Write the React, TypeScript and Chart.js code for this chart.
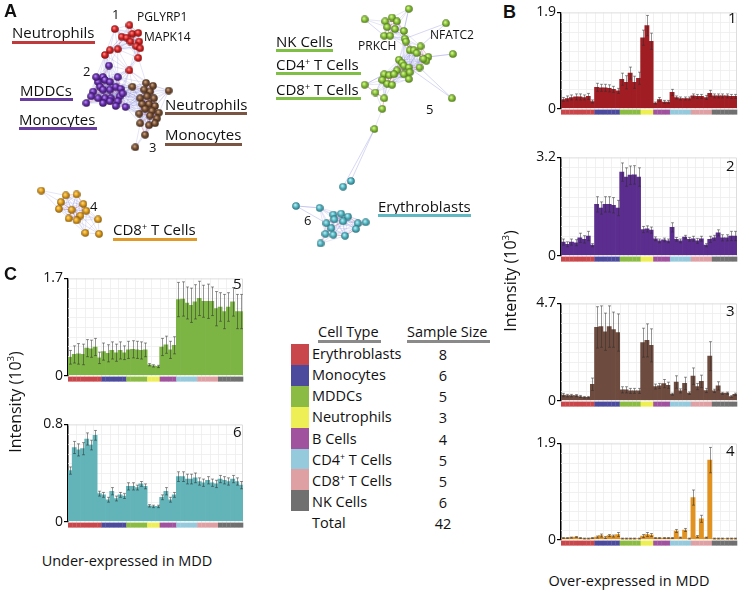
import React, { useEffect, useRef } from "react";
import { Chart, registerables } from "chart.js";
Chart.register(...registerables);

const FONT = "'Open Sans', 'Noto Sans', sans-serif";

// ---------- categories ----------
const cellTypes = ["Erythroblasts", "Monocytes", "MDDCs", "Neutrophils", "B Cells", "CD4+ T Cells", "CD8+ T Cells", "NK Cells"];
const sampleSizes = [8, 6, 5, 3, 4, 5, 5, 6];
const cellColors = ["#c9464b", "#4b4a9d", "#8bbb43", "#eeee55", "#a0529e", "#95c9dc", "#dea0a3", "#707070"];
const sampleGroups: number[] = sampleSizes.flatMap((n, g) => Array(n).fill(g));
const sampleLabels = sampleGroups.map((g, i) => `${cellTypes[g]} #${i + 1}`);

// ---------- module 1..6 mean intensities (10^3) and errors ----------
const m1 = [0.18, 0.2, 0.22, 0.23, 0.23, 0.22, 0.24, 0.14, 0.42, 0.41, 0.41, 0.4, 0.38, 0.35, 0.58, 0.52, 0.7, 0.52, 0.6, 1.4, 1.64, 1.33, 0.11, 0.18, 0.13, 0.13, 0.32, 0.22, 0.2, 0.2, 0.2, 0.25, 0.24, 0.24, 0.22, 0.3, 0.25, 0.25, 0.25, 0.25, 0.24, 0.24];
const e1 = [0.04, 0.05, 0.05, 0.06, 0.06, 0.05, 0.06, 0.03, 0.08, 0.07, 0.07, 0.07, 0.06, 0.05, 0.12, 0.13, 0.12, 0.12, 0.12, 0.15, 0.2, 0.16, 0.02, 0.04, 0.03, 0.03, 0.06, 0.03, 0.03, 0.03, 0.03, 0.04, 0.04, 0.04, 0.04, 0.06, 0.04, 0.04, 0.04, 0.04, 0.04, 0.04];
const m2 = [0.44, 0.37, 0.44, 0.42, 0.58, 0.53, 0.64, 0.34, 1.67, 1.55, 1.67, 1.67, 1.64, 1.55, 2.72, 2.56, 2.62, 2.63, 2.56, 0.85, 0.87, 0.83, 0.55, 0.48, 0.51, 0.48, 0.92, 0.53, 0.48, 0.6, 0.53, 0.55, 0.48, 0.55, 0.34, 0.53, 0.58, 0.74, 0.58, 0.58, 0.64, 0.64];
const e2 = [0.1, 0.08, 0.1, 0.1, 0.15, 0.12, 0.15, 0.05, 0.25, 0.2, 0.25, 0.25, 0.25, 0.25, 0.3, 0.3, 0.3, 0.3, 0.3, 0.1, 0.1, 0.1, 0.06, 0.06, 0.06, 0.06, 0.15, 0.06, 0.06, 0.06, 0.06, 0.08, 0.08, 0.08, 0.05, 0.1, 0.08, 0.1, 0.1, 0.1, 0.15, 0.15];
const m3 = [0.27, 0.24, 0.24, 0.24, 0.2, 0.16, 0.16, 0.79, 3.54, 3.58, 3.33, 3.58, 3.43, 3.29, 0.52, 0.52, 0.47, 0.47, 0.47, 2.8, 2.91, 2.67, 0.68, 0.71, 0.82, 0.74, 0.31, 0.9, 0.47, 0.83, 0.36, 1.18, 0.68, 0.93, 0.49, 2.15, 0.47, 0.71, 0.35, 0.36, 0.2, 0.3];
const e3 = [0.08, 0.06, 0.06, 0.05, 0.05, 0.04, 0.04, 0.3, 1.0, 1.0, 0.9, 1.0, 0.85, 0.9, 0.15, 0.15, 0.12, 0.12, 0.12, 0.7, 0.8, 0.8, 0.12, 0.12, 0.2, 0.15, 0.05, 0.3, 0.1, 0.3, 0.06, 0.4, 0.15, 0.3, 0.1, 0.7, 0.08, 0.2, 0.05, 0.05, 0.04, 0.06];
const m4 = [0.03, 0.03, 0.04, 0.05, 0.03, 0.02, 0.02, 0.03, 0.05, 0.08, 0.04, 0.08, 0.07, 0.1, 0.02, 0.02, 0.02, 0.02, 0.02, 0.07, 0.1, 0.09, 0.03, 0.03, 0.03, 0.03, 0.03, 0.17, 0.04, 0.19, 0.02, 0.83, 0.06, 0.41, 0.04, 1.57, 0.02, 0.02, 0.02, 0.02, 0.02, 0.02];
const e4 = [0.01, 0.01, 0.01, 0.01, 0.01, 0.01, 0.01, 0.01, 0.02, 0.03, 0.02, 0.02, 0.02, 0.04, 0.01, 0.01, 0.01, 0.01, 0.01, 0.03, 0.04, 0.03, 0.01, 0.01, 0.01, 0.01, 0.01, 0.03, 0.01, 0.03, 0.01, 0.15, 0.02, 0.07, 0.01, 0.25, 0.01, 0.01, 0.01, 0.01, 0.01, 0.01];
const m5 = [0.32, 0.37, 0.38, 0.37, 0.48, 0.47, 0.5, 0.31, 0.42, 0.39, 0.44, 0.4, 0.44, 0.4, 0.45, 0.46, 0.45, 0.44, 0.45, 0.19, 0.17, 0.16, 0.5, 0.54, 0.45, 0.53, 1.33, 1.34, 1.27, 1.23, 1.29, 1.35, 1.3, 1.3, 1.3, 1.17, 1.2, 1.12, 1.2, 1.29, 1.12, 1.12];
const e5 = [0.12, 0.15, 0.18, 0.18, 0.15, 0.15, 0.15, 0.1, 0.15, 0.15, 0.15, 0.15, 0.15, 0.12, 0.15, 0.15, 0.15, 0.15, 0.12, 0.02, 0.02, 0.02, 0.15, 0.15, 0.15, 0.15, 0.3, 0.3, 0.28, 0.3, 0.3, 0.3, 0.28, 0.3, 0.25, 0.3, 0.25, 0.3, 0.25, 0.25, 0.3, 0.3];
const m6 = [0.42, 0.61, 0.59, 0.6, 0.68, 0.63, 0.71, 0.23, 0.22, 0.18, 0.25, 0.19, 0.22, 0.21, 0.29, 0.29, 0.28, 0.31, 0.29, 0.13, 0.125, 0.125, 0.2, 0.25, 0.18, 0.22, 0.37, 0.37, 0.35, 0.35, 0.36, 0.33, 0.32, 0.34, 0.32, 0.31, 0.35, 0.34, 0.33, 0.35, 0.33, 0.3];
const e6 = [0.03, 0.05, 0.05, 0.05, 0.05, 0.04, 0.04, 0.02, 0.02, 0.02, 0.03, 0.02, 0.02, 0.02, 0.03, 0.03, 0.02, 0.02, 0.02, 0.01, 0.01, 0.01, 0.02, 0.03, 0.02, 0.02, 0.04, 0.04, 0.04, 0.04, 0.04, 0.03, 0.03, 0.03, 0.03, 0.03, 0.03, 0.03, 0.03, 0.03, 0.03, 0.03];
const axisMax = [1.9, 3.2, 4.7, 1.9, 1.7, 0.8];
const moduleColors = ["#a11d24", "#5b2d8e", "#6e4b3f", "#e2921f", "#7db545", "#62b4b9"];

// ---------- network nodes (panel A) ----------
const c1Nodes = [[112, 25], [127, 21], [119, 33], [130, 30], [136, 29], [124, 34], [128, 38], [137, 38], [134, 43], [138, 45], [115, 46], [107, 47], [102, 52], [136, 55], [127, 68]];
const c2Nodes = [[106, 63], [100, 75], [95, 80], [102, 78], [107, 80], [115, 75], [97, 85], [90, 90], [100, 88], [107, 88], [113, 85], [118, 87], [88, 95], [95, 97], [102, 97], [108, 97], [117, 95], [100, 102], [107, 100], [115, 100], [83, 102], [113, 105], [123, 106], [120, 92], [93, 75]];
const c3Nodes = [[144, 81], [151, 84], [142, 88], [148, 90], [167, 89], [138, 97], [145, 95], [152, 97], [140, 103], [147, 103], [153, 105], [143, 108], [150, 110], [157, 112], [137, 113], [148, 115], [155, 118], [138, 123], [147, 125], [153, 123], [143, 135], [133, 148], [130, 85]];
const c4Nodes = [[37, 193], [62, 198], [73, 197], [57, 205], [55, 212], [80, 207], [68, 213], [65, 222], [77, 219], [83, 214], [73, 224], [95, 223], [82, 237], [96, 238]];
const c5Nodes = [[412, 4], [367, 15], [388, 17], [395, 13], [400, 17], [390, 23], [398, 25], [407, 27], [387, 32], [393, 32], [408, 35], [409, 38], [424, 43], [413, 47], [417, 47], [420, 50], [432, 54], [430, 58], [427, 56], [457, 51], [450, 19], [402, 57], [405, 60], [407, 63], [412, 65], [423, 65], [400, 68], [387, 72], [392, 73], [397, 72], [407, 72], [413, 70], [385, 78], [390, 82], [395, 83], [367, 83], [378, 91], [387, 97], [385, 108], [377, 129], [456, 97], [412, 77]];
const c6Nodes = [[353, 183], [345, 189], [297, 209], [321, 211], [335, 218], [343, 217], [350, 220], [336, 223], [328, 227], [345, 225], [360, 227], [368, 226], [333, 232], [327, 238], [335, 239], [347, 240], [358, 233], [322, 248]];
const clusterNodes = [c1Nodes, c2Nodes, c3Nodes, c4Nodes, c5Nodes, c6Nodes];
const clusterShades = [
  ["#ff9a9a", "#d92626", "#7a0c0c"],
  ["#c49aff", "#6b33b0", "#2e0f55"],
  ["#d6b08f", "#7a5236", "#3a2414"],
  ["#ffe08a", "#e5a21d", "#7a4e05"],
  ["#e0ff9a", "#8ec63f", "#456d12"],
  ["#c4f4fb", "#5bbcc9", "#1f6770"],
];
// extra explicit links [clusterA, nodeA, clusterB, nodeB]
const extraLinks = [[4, 39, 5, 0], [4, 39, 5, 1], [4, 0, 4, 7], [4, 20, 4, 12], [4, 20, 4, 10], [4, 40, 4, 25], [4, 40, 4, 24], [4, 19, 4, 16], [4, 1, 4, 8], [4, 35, 4, 27], [5, 2, 5, 3], [5, 2, 5, 8]];

function ball(shades: string[], d = 8) {
  const c = document.createElement("canvas");
  c.width = d; c.height = d;
  const g = c.getContext("2d")!;
  const grd = g.createRadialGradient(d * 0.38, d * 0.35, 0.2, d / 2, d / 2, d / 2);
  grd.addColorStop(0, shades[0]);
  grd.addColorStop(0.45, shades[1]);
  grd.addColorStop(1, shades[2]);
  g.fillStyle = grd;
  g.beginPath();
  g.arc(d / 2, d / 2, d / 2 - 0.2, 0, Math.PI * 2);
  g.fill();
  return c;
}

function Network() {
  const ref = useRef<HTMLCanvasElement>(null);
  useEffect(() => {
    const edgePlugin = {
      id: "edges",
      beforeDatasetsDraw(chart: any) {
        const { ctx, scales } = chart;
        const px = (p: number[]) => [scales.x.getPixelForValue(p[0]), scales.y.getPixelForValue(p[1])];
        ctx.save();
        ctx.lineWidth = 0.6;
        const groups: { members: number[]; thr: number }[] = [
          { members: [0, 1, 2], thr: 30 },
          { members: [3], thr: 30 },
          { members: [4], thr: 26 },
          { members: [5], thr: 28 },
        ];
        groups.forEach((grp) => {
          const list: { p: number[]; c: number }[] = [];
          grp.members.forEach((ci) => clusterNodes[ci].forEach((p) => list.push({ p, c: ci })));
          for (let a = 0; a < list.length; a++) {
            for (let b = a + 1; b < list.length; b++) {
              const d = Math.hypot(list[a].p[0] - list[b].p[0], list[a].p[1] - list[b].p[1]);
              if (d < grp.thr) {
                const red = list[a].c === list[b].c && d < 14;
                ctx.strokeStyle = red ? "rgba(200,60,80,0.55)" : "rgba(120,120,215,0.32)";
                const A = px(list[a].p), B = px(list[b].p);
                ctx.beginPath(); ctx.moveTo(A[0], A[1]); ctx.lineTo(B[0], B[1]); ctx.stroke();
              }
            }
          }
        });
        ctx.strokeStyle = "rgba(120,120,215,0.5)";
        extraLinks.forEach(([ca, na, cb, nb]) => {
          const A = px(clusterNodes[ca][na]), B = px(clusterNodes[cb][nb]);
          ctx.beginPath(); ctx.moveTo(A[0], A[1]); ctx.lineTo(B[0], B[1]); ctx.stroke();
        });
        ctx.restore();
      },
    };
    const ch = new Chart(ref.current!, {
      type: "scatter",
      data: {
        datasets: clusterNodes.map((nodes, i) => ({
          data: nodes.map(([x, y]) => ({ x, y })),
          pointStyle: ball(clusterShades[i]) as any,
          pointRadius: 4,
          showLine: false,
        })),
      },
      options: {
        animation: false,
        responsive: false,
        events: [],
        layout: { padding: 0 },
        plugins: { legend: { display: false }, tooltip: { enabled: false } },
        scales: {
          x: { display: false, min: 0, max: 500 },
          y: { display: false, min: 0, max: 260, reverse: true },
        },
      },
      plugins: [edgePlugin],
    });
    return () => ch.destroy();
  }, []);
  return <canvas ref={ref} width={500} height={260} style={{ position: "absolute", left: 0, top: 0, width: 500, height: 260 }} />;
}

type BarProps = { values: number[]; errors: number[]; color: string; max: number; left: number; right: number; top: number; zero: number };

function BarPanel({ values, errors, color, max, left, right, top, zero }: BarProps) {
  const ref = useRef<HTMLCanvasElement>(null);
  const AX = 40, PT = 8, PB = 8;
  const cl = left - AX;
  const w = right - cl + 1;
  const h = zero - top + PT + PB;
  useEffect(() => {
    const step = (chart: any) => chart.scales.x.getPixelForValue(1) - chart.scales.x.getPixelForValue(0);
    const bg = {
      id: "bg",
      beforeDatasetsDraw(chart: any) {
        const { ctx, chartArea: a, scales } = chart;
        ctx.save();
        ctx.strokeStyle = "#eeeeee";
        ctx.lineWidth = 0.8;
        for (let k = 1; k < 10; k++) {
          const y = Math.round(scales.y.getPixelForValue((max * k) / 10)) + 0.5;
          ctx.beginPath(); ctx.moveTo(a.left, y); ctx.lineTo(a.right, y); ctx.stroke();
        }
        const s = step(chart);
        for (let i = 2; i < values.length; i += 2) {
          const x = Math.round(scales.x.getPixelForValue(i) - s / 2) + 0.5;
          ctx.beginPath(); ctx.moveTo(x, a.top); ctx.lineTo(x, a.bottom); ctx.stroke();
        }
        ctx.strokeStyle = "#dddddd";
        ctx.lineWidth = 1;
        ctx.beginPath(); ctx.moveTo(a.left, a.top + 0.5); ctx.lineTo(a.right - 0.5, a.top + 0.5); ctx.lineTo(a.right - 0.5, a.bottom); ctx.stroke();
        ctx.restore();
      },
    };
    const err = {
      id: "err",
      afterDatasetsDraw(chart: any) {
        const { ctx, scales } = chart;
        ctx.save();
        ctx.strokeStyle = "rgba(45,45,45,0.5)";
        ctx.lineWidth = 1;
        values.forEach((v, i) => {
          const x = Math.round(scales.x.getPixelForValue(i)) + 0.5;
          const yh = scales.y.getPixelForValue(v + errors[i]);
          const yl = scales.y.getPixelForValue(Math.max(0, v - errors[i]));
          ctx.beginPath();
          ctx.moveTo(x, yh); ctx.lineTo(x, yl);
          ctx.moveTo(x - 1.5, yh); ctx.lineTo(x + 1.5, yh);
          ctx.moveTo(x - 1.5, yl); ctx.lineTo(x + 1.5, yl);
          ctx.stroke();
        });
        ctx.restore();
      },
    };
    const strip = {
      id: "strip",
      afterDraw(chart: any) {
        const { ctx, scales } = chart;
        const s = step(chart);
        const y0 = scales.y.getPixelForValue(0);
        ctx.save();
        sampleGroups.forEach((g, i) => {
          const xc = scales.x.getPixelForValue(i);
          ctx.fillStyle = cellColors[g];
          ctx.fillRect(xc - s / 2, y0 + 1, s + 0.3, 5);
        });
        ctx.restore();
      },
    };
    const ch = new Chart(ref.current!, {
      type: "bar",
      data: {
        labels: sampleLabels,
        datasets: [{ data: values, backgroundColor: color, barPercentage: 1, categoryPercentage: 1, borderWidth: 0 }],
      },
      options: {
        animation: false,
        responsive: false,
        events: [],
        layout: { padding: { top: PT, right: 1, bottom: PB, left: 0 } },
        plugins: { legend: { display: false }, tooltip: { enabled: false } },
        scales: {
          x: { display: false },
          y: {
            min: 0,
            max,
            afterBuildTicks: (sc: any) => { sc.ticks = [{ value: 0 }, { value: max }]; },
            afterFit: (sc: any) => { sc.width = AX; },
            ticks: { color: "#111", font: { size: 14, family: FONT }, padding: 1, callback: (v: any) => String(v) },
            grid: { drawOnChartArea: false, color: "#000", tickLength: 4, lineWidth: 1.2 },
            border: { color: "#000", width: 1.5 },
          },
        },
      },
      plugins: [bg, err, strip],
    });
    return () => ch.destroy();
  }, []);
  return <canvas ref={ref} width={w} height={h} style={{ position: "absolute", left: cl, top: top - PT, width: w, height: h }} />;
}

type TP = { x: number; y: number; s?: number; c?: string; b?: boolean; u?: string; uw?: number; uy?: number; children: React.ReactNode };
function T({ x, y, s = 15, c = "#111", b = false, u, uw, uy, children }: TP) {
  return (
    <>
      <div style={{ position: "absolute", left: x, top: y - s * 0.53, fontSize: s, lineHeight: `${s}px`, color: c, fontWeight: b ? 700 : 400, whiteSpace: "nowrap", fontFamily: b ? "Arial, 'Liberation Sans', sans-serif" : FONT }}>{children}</div>
      {u ? <div style={{ position: "absolute", left: x, top: uy, width: uw, height: 2.5, background: u }} /> : null}
    </>
  );
}
const Sup = () => <sup style={{ fontSize: "0.6em", verticalAlign: "0.6em", lineHeight: 0 }}>+</sup>;

export default function App() {
  const bp = [
    { top: 11, zero: 110 },
    { top: 156, zero: 257 },
    { top: 302, zero: 402 },
    { top: 442, zero: 541 },
  ];
  const cp = [
    { top: 277, zero: 377 },
    { top: 423, zero: 523 },
  ];
  const mv = [m1, m2, m3, m4, m5, m6];
  const ev = [e1, e2, e3, e4, e5, e6];
  const legendRows = [355, 376, 397, 418, 440, 461, 482, 503];
  const legendNames: React.ReactNode[] = ["Erythroblasts", "Monocytes", "MDDCs", "Neutrophils", "B Cells", <>CD4<Sup /> T Cells</>, <>CD8<Sup /> T Cells</>, "NK Cells"];
  return (
    <div style={{ position: "absolute", left: 0, top: 0, width: 738, height: 590, background: "#fff", fontFamily: FONT, overflow: "hidden" }}>
      <Network />
      {bp.map((p, i) => (
        <BarPanel key={i} values={mv[i]} errors={ev[i]} color={moduleColors[i]} max={axisMax[i]} left={561} right={737} top={p.top} zero={p.zero} />
      ))}
      {cp.map((p, i) => (
        <BarPanel key={"c" + i} values={mv[i + 4]} errors={ev[i + 4]} color={moduleColors[i + 4]} max={axisMax[i + 4]} left={68} right={243} top={p.top} zero={p.zero} />
      ))}

      {/* panel letters */}
      <T x={4} y={12} s={18} b>A</T>
      <T x={503} y={13} s={18} b>B</T>
      <T x={4} y={275} s={18} b>C</T>

      {/* network labels */}
      <T x={12} y={33} u="#c0393b" uw={83} uy={41}>Neutrophils</T>
      <T x={20} y={91} u="#6a3ea1" uw={53} uy={98}>MDDCs</T>
      <T x={19} y={120} u="#6a3ea1" uw={78} uy={127}>Monocytes</T>
      <T x={165} y={105} u="#7a5543" uw={82} uy={112}>Neutrophils</T>
      <T x={165} y={135} u="#7a5543" uw={77} uy={143}>Monocytes</T>
      <T x={112} y={15} s={13}>1</T>
      <T x={137} y={17} s={12}>PGLYRP1</T>
      <T x={144} y={37} s={12}>MAPK14</T>
      <T x={83} y={72} s={13}>2</T>
      <T x={149} y={148} s={13}>3</T>
      <T x={90} y={207} s={13}>4</T>
      <T x={113} y={230} u="#e09a2a" uw={84} uy={238}>CD8<Sup /> T Cells</T>
      <T x={276} y={42} u="#7fbf45" uw={57} uy={49}>NK Cells</T>
      <T x={276} y={65} u="#7fbf45" uw={85} uy={72}>CD4<Sup /> T Cells</T>
      <T x={276} y={90} u="#7fbf45" uw={85} uy={97}>CD8<Sup /> T Cells</T>
      <T x={358} y={46} s={12}>PRKCH</T>
      <T x={430} y={35} s={12}>NFATC2</T>
      <T x={426} y={110} s={13}>5</T>
      <T x={304} y={221} s={13}>6</T>
      <T x={378} y={207} u="#5fb8c2" uw={93} uy={214}>Erythroblasts</T>

      {/* module numbers */}
      <T x={728} y={18} s={15}>1</T>
      <T x={726} y={166} s={15}>2</T>
      <T x={726} y={311} s={15}>3</T>
      <T x={726} y={451} s={15}>4</T>
      <T x={233} y={284} s={15}>5</T>
      <T x={233} y={432} s={15}>6</T>

      {/* axis titles */}
      <div style={{ position: "absolute", left: 510 - 70, top: 281 - 10, width: 140, height: 20, lineHeight: "20px", textAlign: "center", fontSize: 16, transform: "rotate(-90deg)", whiteSpace: "nowrap", color: "#111" }}>
        Intensity (10<sup style={{ fontSize: "0.6em", verticalAlign: "0.7em", lineHeight: 0 }}>3</sup>)
      </div>
      <div style={{ position: "absolute", left: 15 - 70, top: 402 - 10, width: 140, height: 20, lineHeight: "20px", textAlign: "center", fontSize: 16, transform: "rotate(-90deg)", whiteSpace: "nowrap", color: "#111" }}>
        Intensity (10<sup style={{ fontSize: "0.6em", verticalAlign: "0.7em", lineHeight: 0 }}>3</sup>)
      </div>
      <div style={{ position: "absolute", left: 529, top: 572, width: 200, textAlign: "center", fontSize: 14.5, lineHeight: "18px", color: "#111" }}>Over-expressed in MDD</div>
      <div style={{ position: "absolute", left: 27, top: 552, width: 200, textAlign: "center", fontSize: 14.5, lineHeight: "18px", color: "#111" }}>Under-expressed in MDD</div>

      {/* legend table */}
      <T x={318} y={333} s={14.5} u="#8a8a8a" uw={63} uy={340}>Cell Type</T>
      <T x={407} y={333} s={14.5} u="#8a8a8a" uw={83} uy={340}>Sample Size</T>
      {cellTypes.map((_, i) => (
        <React.Fragment key={i}>
          <div style={{ position: "absolute", left: 291, top: 344 + i * 20.9, width: 18, height: 21, background: cellColors[i] }} />
          <T x={312} y={legendRows[i]} s={14.5}>{legendNames[i]}</T>
          <div style={{ position: "absolute", left: 423, top: legendRows[i] - 9, width: 40, textAlign: "center", fontSize: 14.5, lineHeight: "18px", color: "#111" }}>{sampleSizes[i]}</div>
        </React.Fragment>
      ))}
      <T x={312} y={524} s={14.5}>Total</T>
      <div style={{ position: "absolute", left: 423, top: 524 - 9, width: 40, textAlign: "center", fontSize: 14.5, lineHeight: "18px", color: "#111" }}>{sampleSizes.reduce((a, b) => a + b, 0)}</div>
    </div>
  );
}
